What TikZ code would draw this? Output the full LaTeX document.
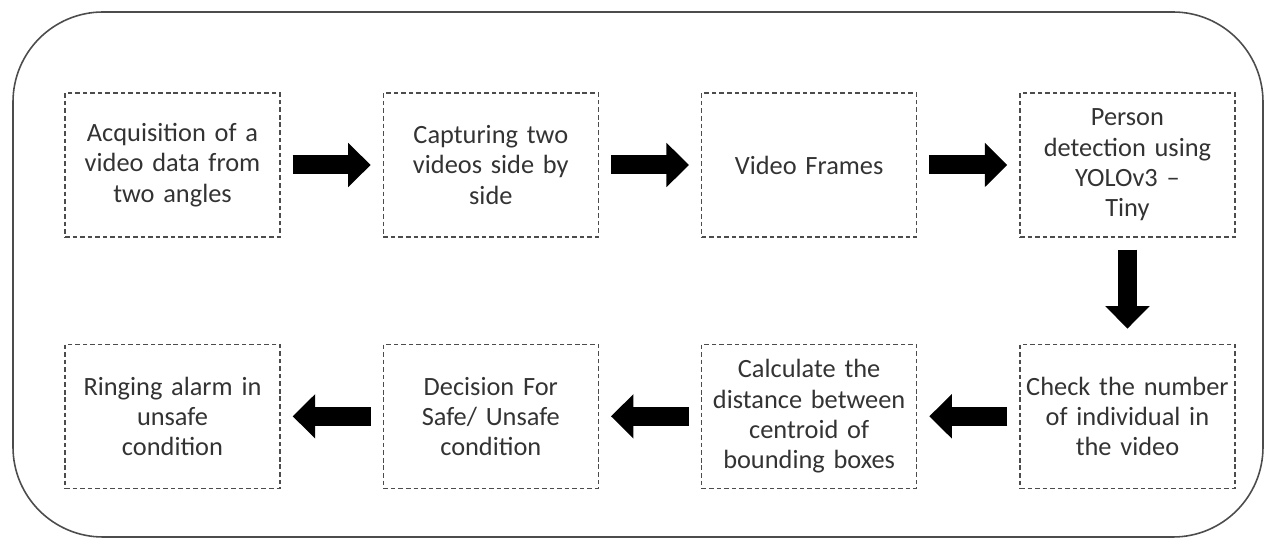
\documentclass[tikz,border=0pt]{standalone}
\usepackage{fontspec}
\setmainfont{Carlito}
\usepackage{tikz}
\usetikzlibrary{positioning, arrows.meta}
\definecolor{cframe}{rgb}{0.3,0.3,0.3}
\definecolor{ctext}{rgb}{0.2,0.2,0.2}
\tikzset{
node distance=2.04cm,
Step/.style={
	draw=cframe, dash pattern=on 2.6pt off 1.7pt,
	line width=0.75pt,
	text width=4.2cm, inner xsep=0.05cm,
	minimum width=4.3cm, minimum height=2.88cm,
	align=center, text=ctext,
	font=\fontsize{15}{17.2}\selectfont
},
FlowArrow/.style={
	draw=black, line width=0.38cm,
	-{Triangle[width=0.86cm, length=0.45cm]},
	shorten <=0.24cm, shorten >=0.24cm
}
}

\begin{document}
\begin{tikzpicture}
	\useasboundingbox (0,0) rectangle (25.36,-10.78);
	\draw[cframe, line width=0.9pt, rounded corners=1.8cm] (0.26,-0.24) rectangle (25.26,-10.74);

	% top row
	\node[Step] (acq) at (3.45,-3.3) {Acquisition of a\\video data from\\two angles};
	\node[Step, right=of acq] (cap) {Capturing two\\videos side by\\side};
	\node[Step, right=of cap] (frames) {Video Frames};
	\node[Step, right=of frames] (detect) {Person\\detection using\\YOLOv3 --\\Tiny};

	% bottom row
	\node[Step, below=2.12cm of detect] (count) {Check the number\\of individual in\\the video};
	\node[Step, left=of count] (dist) {Calculate the\\distance between\\centroid of\\bounding boxes};
	\node[Step, left=of dist] (decide) {Decision For\\Safe/ Unsafe\\condition};
	\node[Step, left=of decide] (alarm) {Ringing alarm in\\unsafe\\condition};

	\draw[FlowArrow] (acq) -- (cap);
	\draw[FlowArrow] (cap) -- (frames);
	\draw[FlowArrow] (frames) -- (detect);
	\draw[FlowArrow, shorten >=0.3cm] (detect) -- (count);
	\draw[FlowArrow] (count) -- (dist);
	\draw[FlowArrow] (dist) -- (decide);
	\draw[FlowArrow] (decide) -- (alarm);
\end{tikzpicture}
\end{document}
